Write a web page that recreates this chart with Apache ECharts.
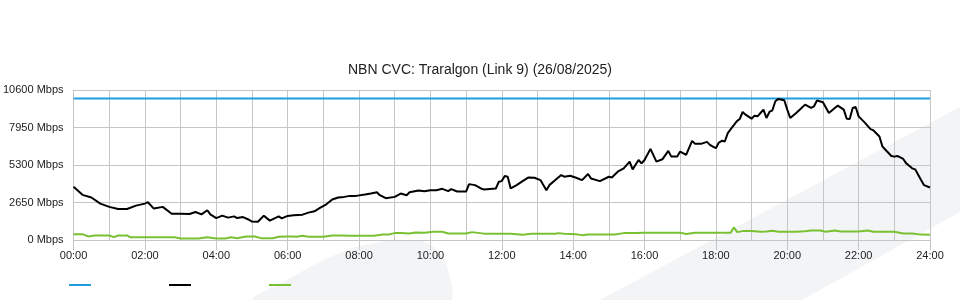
<!DOCTYPE html>
<html><head><meta charset="utf-8">
<script src="https://cdn.jsdelivr.net/npm/echarts@6/dist/echarts.min.js"></script>
<style>html,body{margin:0;padding:0;background:#fff}#c{width:960px;height:300px}</style>
</head><body><div id="c"></div>
<script>
const titleText = 'NBN CVC: Traralgon (Link 9) (26/08/2025)';
const yTicks = [0, 2650, 5300, 7950, 10600];
const xTickLabels = ['00:00','02:00','04:00','06:00','08:00','10:00','12:00','14:00','16:00','18:00','20:00','22:00','24:00'];
const seriesNames = ['Capacity', 'Download', 'Upload'];
const seriesColors = ['#1e9ddf', '#000000', '#79c132'];

// minutes since 00:00
const capacityTimes = [0, 1440];
const capacityValues = [10000, 10000];

const downloadTimes = [
  0,15,30,45,60,75,90,105,120,125,135,150,165,
  180,195,205,215,225,230,240,250,260,270,275,285,295,300,310,320,330,345,350,360,
  370,385,395,405,415,425,435,445,455,465,475,490,500,510,515,525,540,
  550,560,565,580,590,600,610,620,630,635,645,660,665,675,685,690,710,715,
  720,725,730,735,745,755,765,775,785,795,800,810,820,825,835,845,855,865,870,885,900,
  905,915,925,935,940,950,955,960,970,980,990,1000,1005,1015,1020,1030,1040,1045,1055,1065,1070,1075,
  1080,1085,1090,1095,1100,1105,1115,1120,1125,1130,1140,1145,1150,1155,1160,1165,1170,1175,1180,1185,1195,1200,1205,1215,1220,1230,1240,1245,1250,1260,
  1270,1280,1285,1295,1300,1305,1310,1315,1320,1330,1340,1345,1355,1360,1375,1380,1385,1395,1400,1410,1415,1425,1430,1440
];
const downloadValues = [
  3760,3190,3000,2570,2340,2190,2190,2430,2570,2670,2220,2340,1860,
  1860,1840,1980,1810,2100,1810,1550,1720,1580,1670,1550,1620,1430,1300,1290,1720,1370,1670,1530,1700,
  1743,1790,1933,2028,2290,2525,2857,3000,3047,3118,3118,3213,3284,3379,3166,2952,3047,
  3284,3166,3379,3498,3450,3521,3521,3616,3450,3593,3427,3427,3948,3877,3640,3569,3640,4114,
  4162,4517,4470,3640,3877,4162,4422,4398,4233,3521,3877,4233,4588,4470,4541,4398,4233,4660,4351,4162,4470,
  4422,4826,5063,5537,4992,5656,5419,5656,6438,5537,5703,6296,5893,5893,6249,6011,7007,6794,6794,6936,6723,6604,
  6485,6889,7007,6960,7553,7837,8382,8548,9046,8857,8572,8786,8738,8975,9213,8619,9046,9165,9805,9971,9877,9213,8619,8975,9165,9568,9331,9450,9853,9734,
  8975,9331,9497,9213,8572,8548,9331,9402,8738,8311,7837,7742,7316,6604,5940,5893,5940,5727,5419,5063,4992,4233,3877,3711
];

const uploadTimes = [
  0,15,25,35,60,68,75,90,95,105,120,135,150,170,180,195,210,225,240,255,265,275,290,305,315,335,345,360,
  370,375,385,395,420,435,450,465,505,520,530,540,550,565,575,590,605,620,630,660,670,690,700,
  720,723,735,755,770,810,815,825,845,855,865,900,910,925,945,960,1020,1030,1045,1100,1105,1110,1116,
  1125,1140,1155,1165,1175,1185,1215,1230,1240,1255,1265,1280,1290,1320,1335,1345,1380,1395,1410,1425,1440
];
const uploadValues = [
  415,415,250,320,320,201,320,320,201,201,201,201,201,201,110,107,107,201,110,110,201,130,249,249,130,130,225,249,
  249,225,296,225,225,320,320,296,296,391,391,486,486,462,533,510,581,581,462,462,557,450,439,
  439,470,439,368,439,439,486,439,400,344,391,391,391,486,486,520,520,430,510,510,510,889,557,
  628,628,581,600,652,581,581,620,676,676,581,676,604,604,676,581,581,462,462,380,368
];

const pairs = (ts, vs) => ts.map((t, i) => [t, vs[i]]);
const fmtTime = v => xTickLabels[Math.round(v / 120)] || '';
const gridColor = '#c6c6c6';
const font = 'Liberation Sans';

const chart = echarts.init(document.getElementById('c'), null, {renderer: 'canvas'});
chart.setOption({
  animation: false,
  backgroundColor: '#ffffff',
  textStyle: {fontFamily: font},
  title: {
    text: titleText, left: 'center', top: 63, padding: 0,
    textStyle: {fontFamily: font, fontSize: 14, fontWeight: 'normal', color: '#222'}
  },
  graphic: [
    {type: 'polygon', z: -10, silent: true,
     shape: {points: [[600,300],[960,107],[960,212],[802,300]]},
     style: {fill: '#f3f4f6'}},
    {type: 'polygon', z: -10, silent: true,
     shape: {smooth: 0.3, points: [[253,300],[287,280],[320,262],[353,248],[387,241],[407,240],[427,243],[443,257],[452,287],[450,300]]},
     style: {fill: '#f3f4f6'}}
  ],
  legend: {
    left: 69, top: 284, padding: 0, itemGap: 78, itemWidth: 22, itemHeight: 2,
    icon: 'rect', formatter: () => '', selectedMode: false,
    data: seriesNames
  },
  grid: {left: 70, right: 30, top: 90, bottom: 60, containLabel: false},
  xAxis: {
    type: 'value', min: 0, max: 1440, interval: 120,
    axisLine: {show: true, lineStyle: {color: gridColor}},
    axisTick: {show: true, length: 10, lineStyle: {color: gridColor}},
    axisLabel: {formatter: fmtTime, fontSize: 11, color: '#222', margin: 10, fontFamily: font},
    splitLine: {show: true, lineStyle: {color: gridColor, width: 1}},
    minorTick: {show: false, splitNumber: 2},
    minorSplitLine: {show: true, lineStyle: {color: gridColor, width: 1}}
  },
  yAxis: {
    type: 'value', min: yTicks[0], max: yTicks[yTicks.length - 1], interval: yTicks[1] - yTicks[0],
    axisLine: {show: true, lineStyle: {color: gridColor}},
    axisTick: {show: false},
    axisLabel: {formatter: v => v + ' Mbps', fontSize: 11, color: '#222', margin: 10, fontFamily: font},
    splitLine: {show: true, lineStyle: {color: gridColor, width: 1}}
  },
  series: [
    {name: seriesNames[0], type: 'line', data: pairs(capacityTimes, capacityValues),
     showSymbol: false, lineStyle: {width: 2, color: seriesColors[0]}, itemStyle: {color: seriesColors[0]}},
    {name: seriesNames[1], type: 'line', data: pairs(downloadTimes, downloadValues),
     showSymbol: false, lineStyle: {width: 2, color: seriesColors[1]}, itemStyle: {color: seriesColors[1]}},
    {name: seriesNames[2], type: 'line', data: pairs(uploadTimes, uploadValues),
     showSymbol: false, lineStyle: {width: 2, color: seriesColors[2]}, itemStyle: {color: seriesColors[2]}}
  ]
});
</script></body></html>
